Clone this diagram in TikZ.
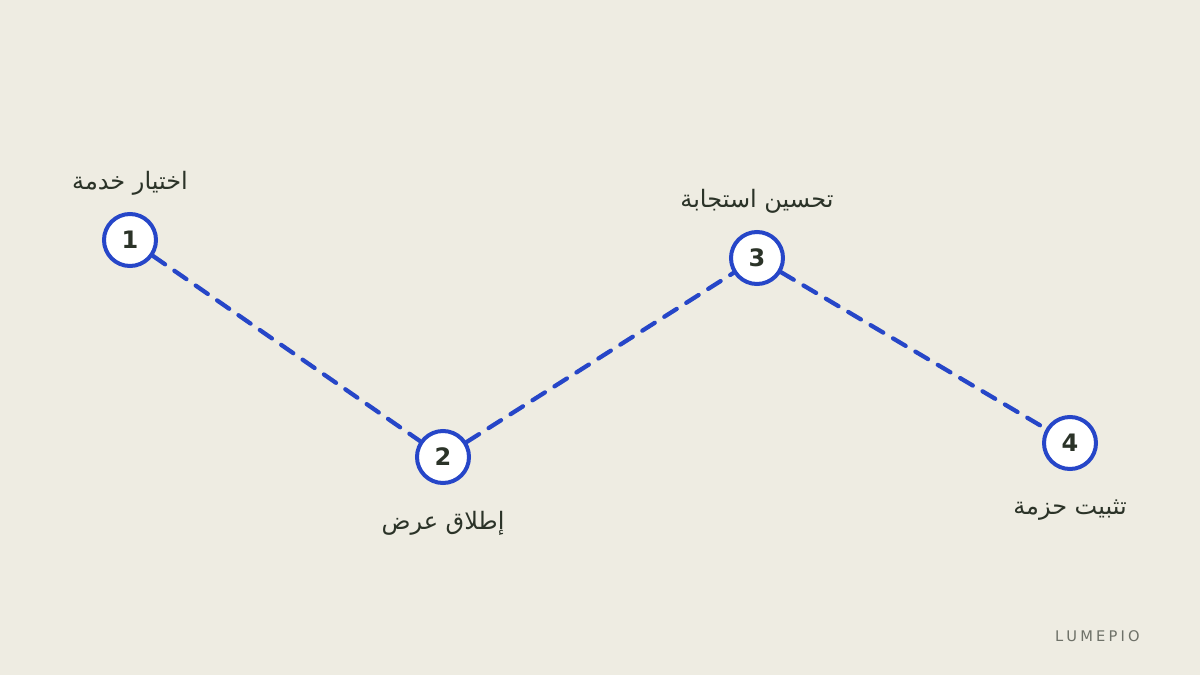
\documentclass[tikz,border=0pt]{standalone}
\usepackage{fontspec}
\setmainfont{DejaVu Sans}
\newfontfamily\arabicfont[Script=Arabic]{DejaVu Sans}
\TeXXeTstate=1
\definecolor{bgbeige}{RGB}{238,236,226}
\definecolor{stepblue}{RGB}{38,70,200}
\definecolor{inkdark}{RGB}{43,51,40}
\definecolor{brandgray}{RGB}{110,113,104}
\tikzset{
  stepdot/.style={circle,draw=stepblue,line width=3pt,fill=white,minimum size=39pt,inner sep=0pt,
    text=inkdark,font=\fontsize{18}{20}\selectfont\bfseries},
  steptext/.style={inner sep=0.75pt,text=inkdark,font=\fontsize{18}{22}\selectfont\arabicfont},
  steplink/.style={draw=stepblue,line width=3.2pt,line cap=round,dash pattern=on 11pt off 8.5pt}
}
\begin{document}
\begin{tikzpicture}[x=0.75pt,y=0.75pt,yscale=-1,xscale=1]
	%Background
	\fill [bgbeige] (0,0) rectangle (1200,675) ;
	\useasboundingbox (0,0) rectangle (1200,675) ;
	
	%Steps
	\node [stepdot] (s1) at (130,240) {1};
	\node [stepdot] (s2) at (443,457) {2};
	\node [stepdot] (s3) at (757,258) {3};
	\node [stepdot] (s4) at (1070,443) {4};
	
	%Dashed links
	\path [steplink] (s1) -- (s2) ;
	\path [steplink] (s2) -- (s3) ;
	\path [steplink] (s3) -- (s4) ;
	
	% Text Node
	\node [steptext] (t1) at (130,183) {\beginR اختيار خدمة\endR};
	% Text Node
	\node [steptext] (t2) at (443,523) {\beginR إطلاق عرض\endR};
	% Text Node
	\node [steptext] (t3) at (757,201) {\beginR تحسين استجابة\endR};
	% Text Node
	\node [steptext] (t4) at (1070,510) {\beginR تثبيت حزمة\endR};
	% Text Node
	\node [anchor=east,inner sep=0pt,text=brandgray,font=\fontsize{11}{13}\selectfont] (brand) at (1140,636) {L\hspace{2.4pt}U\hspace{2.4pt}M\hspace{2.4pt}E\hspace{2.4pt}P\hspace{2.4pt}I\hspace{2.4pt}O};
	
\end{tikzpicture}
\end{document}
